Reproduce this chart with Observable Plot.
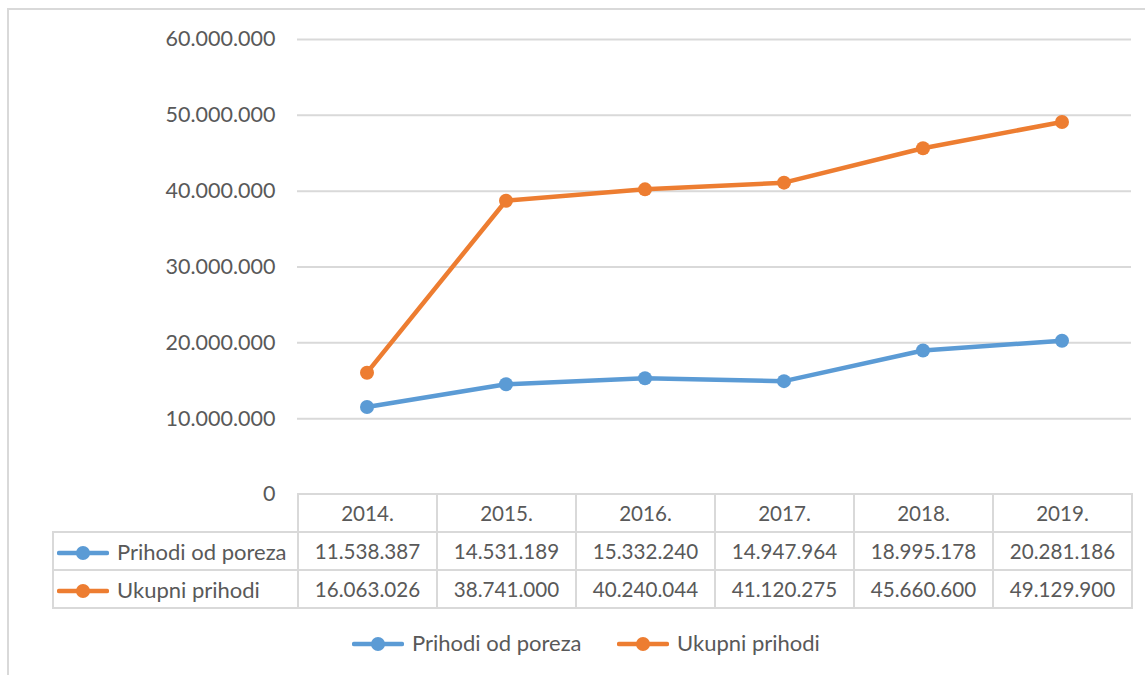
<!DOCTYPE html>
<html>
<head>
<meta charset="utf-8">
<script src="https://cdn.jsdelivr.net/npm/d3@7"></script>
<script src="https://cdn.jsdelivr.net/npm/@observablehq/plot@0.6"></script>
<style>
  html, body { margin: 0; padding: 0; background: #fff; }
  body { width: 1145px; height: 675px; overflow: hidden; font-family: Lato, "Open Sans", sans-serif; color: #595959; }
  #wrap { position: relative; width: 1145px; height: 675px; }
  #frame { position: absolute; left: 7px; top: 8px; width: 1200px; height: 800px; border: 2px solid #d9d9d9; box-sizing: border-box; }
  #chart { position: absolute; left: 0; top: 0; }
  #chart svg { overflow: visible; }
  table { position: absolute; left: 52px; top: 493px; border-collapse: collapse; font-size: 20.6px; color: #595959; }
  td { border: 2px solid #d9d9d9; padding: 0; text-align: center; height: 36px; box-sizing: border-box; }
  td.lab { text-align: left; width: 245px; white-space: nowrap; font-size: 22px; }
  td.blank { border: none; border-right: 2px solid #d9d9d9; }
  td.val { width: 139px; }
  .key { display: inline-block; vertical-align: middle; margin-right: 8px; margin-left: 3px; position: relative; top: -1px; }
  #legend { position: absolute; top: 628px; left: 0; width: 1145px; font-size: 22px; color: #595959; }
  .li { position: absolute; top: 0; white-space: nowrap; line-height: 30px; }
</style>
</head>
<body>
<div id="wrap">
  <div id="frame"></div>
  <div id="chart"></div>
  <table id="tbl"></table>
  <div id="legend"></div>
</div>
<script>
const years = ["2014.", "2015.", "2016.", "2017.", "2018.", "2019."];
const seriesNames = ["Prihodi od poreza", "Ukupni prihodi"];
const porez = [11538387, 14531189, 15332240, 14947964, 18995178, 20281186];
const ukupni = [16063026, 38741000, 40240044, 41120275, 45660600, 49129900];
const yTicks = [0, 10000000, 20000000, 30000000, 40000000, 50000000, 60000000];
const colors = ["#5B9BD5", "#ED7D31"];

const fmt = d3.formatLocale({decimal: ",", thousands: ".", grouping: [3], currency: ["", ""]}).format(",d");

const data = [];
[porez, ukupni].forEach((vals, s) => vals.forEach((v, i) => data.push({year: years[i], value: v, series: seriesNames[s]})));

const plot = Plot.plot({
  width: 1145,
  height: 500,
  marginLeft: 297,
  marginRight: 14,
  marginTop: 39,
  marginBottom: 6,
  style: {fontFamily: "Lato, 'Open Sans', sans-serif", fontSize: "21.5px", color: "#595959", background: "transparent"},
  x: {type: "band", domain: years, padding: 0, axis: null},
  y: {domain: [0, 60000000], ticks: yTicks, tickFormat: fmt, label: null, tickSize: 0, tickPadding: 22},
  color: {domain: seriesNames, range: colors},
  marks: [
    Plot.gridY(yTicks.filter(d => d > 0), {stroke: "#d9d9d9", strokeOpacity: 1, strokeWidth: 2}),
    Plot.axisY({ticks: yTicks, tickFormat: fmt, tickSize: 0, tickPadding: 22, label: null, fill: "#595959"}),
    Plot.line(data, {x: "year", y: "value", z: "series", stroke: "series", strokeWidth: 4.5, strokeLinejoin: "round"}),
    Plot.dot(data, {x: "year", y: "value", fill: "series", r: 7})
  ]
});
document.getElementById("chart").appendChild(plot);

function keySvg(color) {
  return `<svg class="key" width="52" height="16" viewBox="0 0 52 16"><line x1="2" y1="8" x2="50" y2="8" stroke="${color}" stroke-width="4.5" stroke-linecap="round"/><circle cx="26" cy="8" r="7" fill="${color}"/></svg>`;
}

const tbl = document.getElementById("tbl");
let html = `<tr><td class="lab blank"></td>${years.map(y => `<td class="val">${y}</td>`).join("")}</tr>`;
[porez, ukupni].forEach((vals, s) => {
  html += `<tr style="height:38px"><td class="lab">${keySvg(colors[s])}${seriesNames[s]}</td>${vals.map(v => `<td class="val">${fmt(v)}</td>`).join("")}</tr>`;
});
tbl.innerHTML = html;
tbl.querySelector("tr").style.height = "38px";

const legend = document.getElementById("legend");
const lpos = [349, 614];
legend.innerHTML = seriesNames.map((n, i) => `<div class="li" style="left:${lpos[i]}px">${keySvg(colors[i])}${n}</div>`).join("");
</script>
</body>
</html>
